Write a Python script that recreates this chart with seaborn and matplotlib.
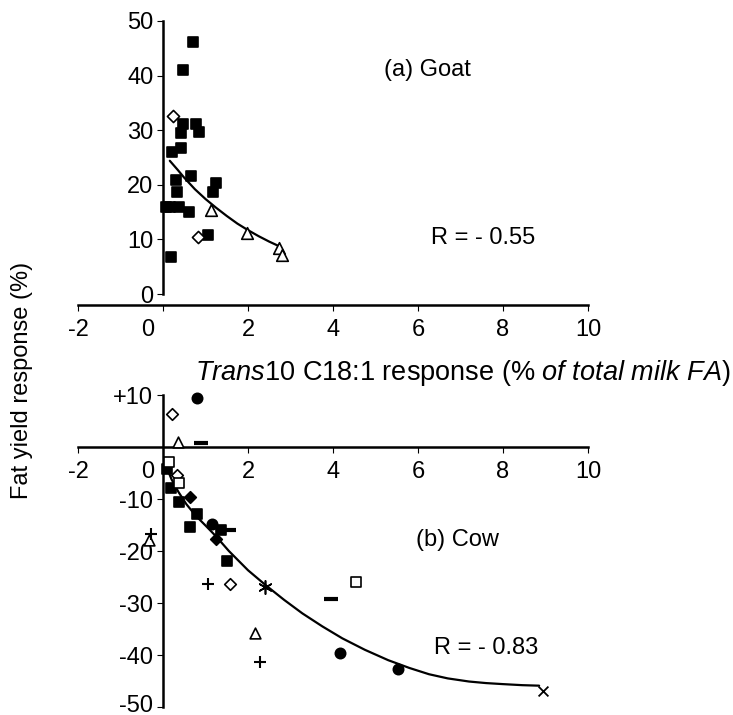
import matplotlib
matplotlib.use('Agg')
import matplotlib.pyplot as plt
import matplotlib.transforms as mtransforms
import pandas as pd
import seaborn as sns

sns.set_theme(style='white')
plt.rcParams['font.family'] = ['Liberation Sans', 'DejaVu Sans']
plt.rcParams['axes.unicode_minus'] = False
plt.rcParams['mathtext.fontset'] = 'custom'
plt.rcParams['mathtext.rm'] = 'Liberation Sans'
plt.rcParams['mathtext.it'] = 'Liberation Sans:italic'

# (a) goat: trans10 C18:1 response vs fat yield response
goat_sq_x = [0.71, 0.46, 0.46, 0.42, 0.77, 0.85, 0.42, 0.22, 0.30, 0.65, 0.34, 1.17, 1.24, 0.07, 0.17, 0.38, 0.62, 1.07, 0.19]
goat_sq_y = [46.1, 41.0, 31.1, 29.4, 31.1, 29.6, 26.8, 26.0, 20.9, 21.7, 18.6, 18.7, 20.4, 16.0, 16.0, 16.0, 15.0, 10.8, 6.8]
goat_dia_x = [0.23, 0.83]
goat_dia_y = [32.6, 10.4]
goat_tri_x = [1.13, 1.97, 2.73, 2.81]
goat_tri_y = [15.3, 11.1, 8.4, 7.1]
goat_fit_x = [0.16, 0.35, 0.5, 0.75, 1.0, 1.25, 1.5, 1.75, 2.0, 2.25, 2.5, 2.75]
goat_fit_y = [24.4, 22.7, 21.3, 19.2, 17.4, 15.8, 14.3, 12.9, 11.7, 10.6, 9.6, 8.7]

# (b) cow
cow_sq_x = [0.10, 0.18, 0.38, 0.79, 0.63, 1.36, 1.50]
cow_sq_y = [-4.3, -7.8, -10.5, -12.9, -15.3, -16.0, -21.9]
cow_fdia_x = [0.63, 1.25]
cow_fdia_y = [-9.6, -17.6]
cow_circ_x = [0.81, 1.15, 4.16, 5.54]
cow_circ_y = [9.4, -14.8, -39.6, -42.7]
cow_dia_x = [0.22, 0.34, 1.57]
cow_dia_y = [6.3, -5.4, -26.3]
cow_tri_x = [0.36, -0.33, 2.16]
cow_tri_y = [1.0, -17.8, -35.8]
cow_osq_x = [0.14, 0.38, 4.55]
cow_osq_y = [-2.8, -7.0, -25.9]
cow_dash_x = [0.89, 1.55, 3.95]
cow_dash_y = [0.8, -16.0, -29.2]
cow_plus_x = [-0.28, 1.07, 2.28]
cow_plus_y = [-16.8, -26.3, -41.4]
cow_ast_x = [2.40]
cow_ast_y = [-27.0]
cow_x_x = [8.94]
cow_x_y = [-46.9]
cow_fit_x = [0.08, 0.2, 0.36, 0.55, 0.77, 1.0, 1.25, 1.55, 2.0, 2.42, 2.85, 3.28, 3.75, 4.22,
             4.75, 5.3, 5.8, 6.26, 6.7, 7.2, 7.6, 8.0, 8.45, 8.85]
cow_fit_y = [-3.8, -6.2, -8.6, -11.0, -13.2, -15.1, -17.2, -20.0, -23.7, -26.6, -29.4, -32.0,
             -34.5, -36.8, -39.0, -41.0, -42.5, -43.7, -44.5, -45.1, -45.4, -45.6, -45.8, -45.9]

x_ticks = [-2, 0, 2, 4, 6, 8, 10]
top_yticks = [0, 10, 20, 30, 40, 50]
bot_yticks = [10, -10, -20, -30, -40, -50]
bot_ylabels = ['+10', '-10', '-20', '-30', '-40', '-50']

W, H = 733, 715
fig = plt.figure(figsize=(W / 100, H / 100), dpi=100)
ax1 = fig.add_axes([78 / W, (H - 305) / H, 510 / W, 295 / H])
ax2 = fig.add_axes([78 / W, (H - 712.2) / H, 510 / W, 322.4 / H])

FS = 17


def pts(ax, x, y, marker, filled=True, s=55, lw=1.2):
    df = pd.DataFrame({'x': x, 'y': y})
    kw = dict(marker=marker, s=s, linewidth=lw, zorder=3)
    if marker in ('+', 'x', '_') or isinstance(marker, tuple):
        kw.update(color='black')
    elif filled:
        kw.update(color='black', edgecolor='black')
    else:
        kw.update(facecolor='white', edgecolor='black')
    sns.scatterplot(data=df, x='x', y='y', ax=ax, legend=False, **kw)


def fit(ax, x, y):
    df = pd.DataFrame({'x': x, 'y': y})
    sns.lineplot(data=df, x='x', y='y', ax=ax, color='black', lw=1.6, sort=False,
                 estimator=None, zorder=2)


# top panel
pts(ax1, goat_sq_x, goat_sq_y, 's', s=60)
pts(ax1, goat_dia_x, goat_dia_y, 'D', filled=False, s=38)
pts(ax1, goat_tri_x, goat_tri_y, '^', filled=False, s=70)
fit(ax1, goat_fit_x, goat_fit_y)

# bottom panel
pts(ax2, cow_sq_x, cow_sq_y, 's', s=55)
pts(ax2, cow_fdia_x, cow_fdia_y, 'D', s=35)
pts(ax2, cow_circ_x, cow_circ_y, 'o', s=55)
pts(ax2, cow_dia_x, cow_dia_y, 'D', filled=False, s=35)
pts(ax2, cow_tri_x, cow_tri_y, '^', filled=False, s=60)
pts(ax2, cow_osq_x, cow_osq_y, 's', filled=False, s=45)
pts(ax2, cow_dash_x, cow_dash_y, '_', s=110, lw=3)
pts(ax2, cow_plus_x, cow_plus_y, '+', s=80, lw=1.5)
pts(ax2, cow_ast_x, cow_ast_y, (6, 2, 0), s=90, lw=1.2)
pts(ax2, cow_x_x, cow_x_y, 'x', s=50, lw=1.3)
fit(ax2, cow_fit_x, cow_fit_y)

ax1.set_ylim(-2, 52)
ax2.set_ylim(-51, 11)
ax2.spines['bottom'].set_position(('data', 0))

for ax in (ax1, ax2):
    ax.set_xlim(-2, 10)
    ax.set_xlabel('')
    ax.set_ylabel('')
    ax.patch.set_alpha(0)
    for side in ('top', 'right'):
        ax.spines[side].set_visible(False)
    for side in ('left', 'bottom'):
        ax.spines[side].set_color('black')
        ax.spines[side].set_linewidth(1.8)
    ax.spines['left'].set_position(('data', 0))

ax1.spines['left'].set_bounds(0, 50)
ax2.spines['left'].set_bounds(-50, 10)

for ax in (ax1, ax2):
    ax.set_xticks(x_ticks)
    ax.set_xticklabels([str(t) for t in x_ticks])
    ax.tick_params(axis='both', which='major', labelsize=FS, colors='black',
                   direction='out', length=4, width=0.8, left=True, bottom=True)
    ax.tick_params(axis='x', pad=6)
    ax.tick_params(axis='y', pad=3)

ax1.set_yticks(top_yticks)
ax1.set_yticklabels([str(t) for t in top_yticks])
ax2.set_yticks(bot_yticks)
ax2.set_yticklabels(bot_ylabels)

# the x label "0" sits to the left of the y axis
for ax in (ax1, ax2):
    off = mtransforms.ScaledTranslation(-15 / 100, 0, fig.dpi_scale_trans)
    lab0 = ax.get_xticklabels()[1]
    lab0.set_transform(lab0.get_transform() + off)

# keep "-50" inside the picture
lab50 = ax2.get_yticklabels()[-1]
lab50.set_transform(lab50.get_transform() +
                    mtransforms.ScaledTranslation(0, 4 / 100, fig.dpi_scale_trans))

ax1.text(5.2, 41, '(a) Goat', fontsize=FS, va='center', ha='left', color='black')
ax1.text(6.3, 10.3, 'R = - 0.55', fontsize=FS, va='center', ha='left', color='black')
ax2.text(5.95, -17.9, '(b) Cow', fontsize=FS, va='center', ha='left', color='black')
ax2.text(6.38, -38.7, 'R = - 0.83', fontsize=FS, va='center', ha='left', color='black')

fig.text(195 / W, (H - 373) / H,
         r'$\it{Trans}$10 C18:1 response $\it{(\%\ of\ total\ milk\ FA)}$',
         fontsize=19.5, ha='left', va='center', color='black')
fig.text(22 / W, (H - 380) / H, 'Fat yield response (%)', rotation=90,
         fontsize=FS, ha='center', va='center', color='black')

fig.savefig('out.png', dpi=100)
